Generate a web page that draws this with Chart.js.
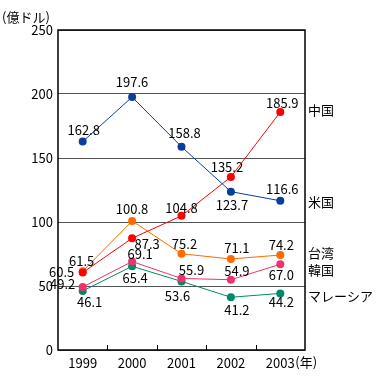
<!DOCTYPE html>
<html>
<head>
<meta charset="utf-8">
<script src="https://cdn.jsdelivr.net/npm/chart.js@4/dist/chart.umd.min.js"></script>
<style>
  html, body { margin: 0; padding: 0; background: #fff; }
  #wrap { width: 378px; height: 379px; }
</style>
</head>
<body>
<div id="wrap"><canvas id="c"></canvas></div>
<script>
const years = ["1999", "2000", "2001", "2002", "2003"]
const names = ["米国", "中国", "台湾", "韓国", "マレーシア"]
const usa = [162.8, 197.6, 158.8, 123.7, 116.6]
const china = [60.5, 87.3, 104.8, 135.2, 185.9]
const taiwan = [61.5, 100.8, 75.2, 71.1, 74.2]
const korea = [49.2, 69.1, 55.9, 54.9, 67.0]
const malaysia = [46.1, 65.4, 53.6, 41.2, 44.2]

const colors = ["#0d3d9c", "#ff0000", "#ff6a00", "#f2306e", "#008a68"]
const FONT = "'Noto Sans CJK JP', 'DejaVu Sans', sans-serif"

// where each value label sits relative to its point (dx, dy)
const labelOffsets = [
  [[1, -12], [0, -15], [3, -14], [1, 13], [2, -12]],
  [[-21, 0], [15, 6], [0, -8], [-4, -10], [2, -9]],
  [[-1, -10], [0, -12], [3, -10], [6, -11], [1, -10]],
  [[-20, -3], [8, -7], [10, -8], [6, -9], [1, 11]],
  [[7, 11], [3, 12], [-4, 15], [6, 13], [1, 9]]
]
const sideLabelY = [202, 110, 253, 270, 296]

const series = [usa, china, taiwan, korea, malaysia]

const decor = {
  id: "decor",
  afterDraw(chart) {
    const ctx = chart.ctx
    const a = chart.chartArea
    const xs = chart.scales.x
    const ys = chart.scales.y
    ctx.save()
    // inner tick marks between categories
    ctx.strokeStyle = "#000"
    ctx.lineWidth = 1
    for (let i = 1; i < years.length; i++) {
      const x = Math.round((xs.getPixelForValue(i - 1) + xs.getPixelForValue(i)) / 2) + 0.5
      ctx.beginPath()
      ctx.moveTo(x, a.bottom)
      ctx.lineTo(x, a.bottom - 5)
      ctx.stroke()
    }
    // frame
    ctx.lineWidth = 1.5
    ctx.strokeRect(a.left, a.top, a.right - a.left, a.bottom - a.top)

    ctx.fillStyle = "#000"
    ctx.font = "13px " + FONT
    ctx.textAlign = "center"
    ctx.textBaseline = "middle"
    series.forEach((vals, s) => {
      vals.forEach((v, i) => {
        const off = labelOffsets[s][i]
        const px = xs.getPixelForValue(i) + off[0]
        const py = ys.getPixelForValue(v) + off[1]
        ctx.fillText(v.toFixed(1), px, py)
      })
    })
    // series names on the right
    ctx.textAlign = "left"
    names.forEach((n, s) => {
      ctx.fillText(n, a.right + 3, sideLabelY[s])
    })
    // unit labels
    ctx.fillText("(億ドル)", 2, 17)
    const lastX = xs.getPixelForValue(years.length - 1)
    ctx.fillText("(年)", lastX + 15, 362)
    ctx.restore()
  }
}

new Chart(document.getElementById("c"), {
  type: "line",
  data: {
    labels: years,
    datasets: series.map((vals, s) => ({
      label: names[s],
      data: vals,
      borderColor: colors[s],
      backgroundColor: colors[s],
      borderWidth: 1,
      pointRadius: 4,
      pointBorderWidth: 0,
      tension: 0
    }))
  },
  options: {
    responsive: true,
    maintainAspectRatio: false,
    animation: false,
    layout: { padding: { left: 0, right: 73, top: 30, bottom: 0 } },
    plugins: {
      legend: { display: false },
      tooltip: { enabled: false }
    },
    scales: {
      x: {
        offset: true,
        grid: { display: false },
        border: { display: false },
        ticks: { color: "#000", font: { size: 13, family: FONT, lineHeight: 1 }, padding: -1, maxRotation: 0 },
        afterFit(scale) { scale.height = 29 }
      },
      y: {
        min: 0,
        max: 250,
        grid: { color: "#555", drawTicks: false, lineWidth: 1 },
        border: { display: false },
        ticks: { stepSize: 50, color: "#000", font: { size: 13, family: FONT }, padding: 5 },
        afterFit(scale) { scale.width = 58 }
      }
    }
  },
  plugins: [decor]
})
</script>
</body>
</html>
